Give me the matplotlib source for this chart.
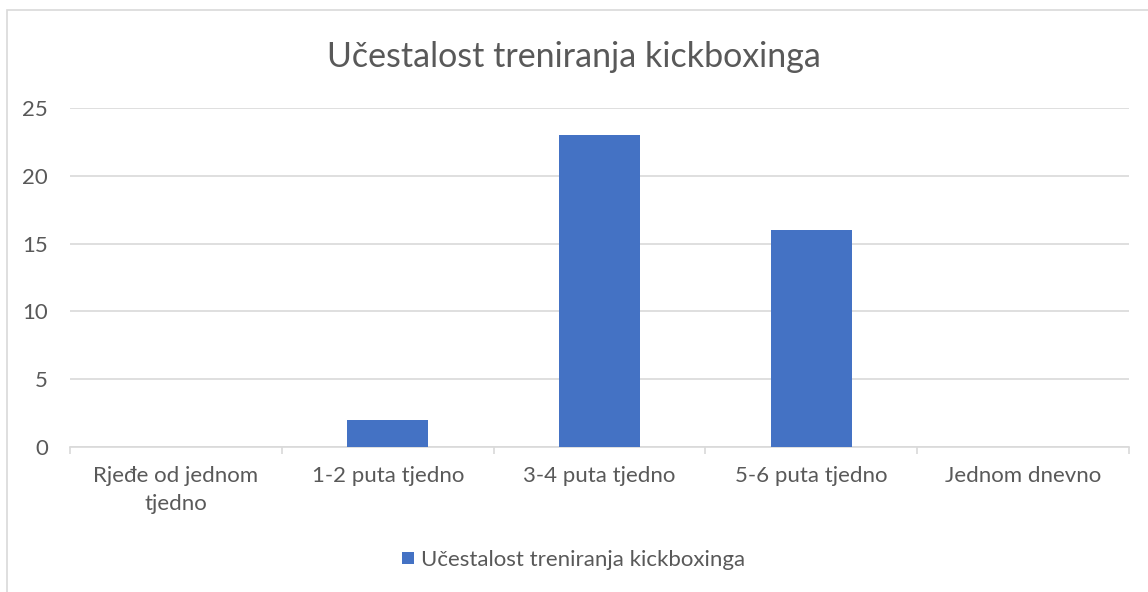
import numpy as np
import matplotlib
matplotlib.use("Agg")
import matplotlib.pyplot as plt
import matplotlib.patches as patches

# data
categories = ["Rjeđe od jednom\ntjedno", "1-2 puta tjedno", "3-4 puta tjedno",
              "5-6 puta tjedno", "Jednom dnevno"]
values = [0, 2, 23, 16, 0]
y_ticks = [0, 5, 10, 15, 20, 25]
series_name = "Učestalost treniranja kickboxinga"
title = "Učestalost treniranja kickboxinga"

BLUE = "#4472c4"
TEXT = "#595959"
GRID = "#d9d9d9"

plt.rcParams["font.family"] = ["Lato", "DejaVu Sans"]

fig = plt.figure(figsize=(11.48, 5.92), dpi=100)
ax = fig.add_axes([70 / 1148, 1 - 447 / 592, (1129 - 70) / 1148, (447 - 108) / 592])

# chart border (only left/top visible in reference)
fig.add_artist(patches.Rectangle((7 / 1148, -0.01), 1.0, 1 - 10 / 592 + 0.01,
                                 transform=fig.transFigure, fill=False,
                                 edgecolor=GRID, linewidth=1.2))

x = np.arange(len(categories))
ax.bar(x, values, width=0.38, color=BLUE, zorder=3, label=series_name)

ax.set_xlim(-0.5, len(categories) - 0.5)
ax.set_ylim(0, 25)
ax.set_yticks(y_ticks)
ax.yaxis.grid(True, color=GRID, linewidth=1.2, zorder=0)
ax.set_axisbelow(True)

ax.set_xticks(x)
ax.set_xticklabels(categories, fontsize=16, color=TEXT, linespacing=1.5)
ax.set_xticks(np.arange(-0.5, len(categories)), minor=True)
ax.tick_params(axis="x", which="major", length=0, pad=14)
ax.tick_params(axis="x", which="minor", length=5, color=GRID, width=1.2)
ax.tick_params(axis="y", length=0, pad=16, labelsize=16, labelcolor=TEXT)

for s in ["top", "right", "left"]:
    ax.spines[s].set_visible(False)
ax.spines["bottom"].set_color(GRID)
ax.spines["bottom"].set_linewidth(1.2)

fig.text(0.5, 1 - 57 / 592, title, ha="center", va="center",
         fontsize=24.5, color=TEXT)

leg = fig.legend(loc="center", bbox_to_anchor=(0.5, 1 - 560 / 592),
                 frameon=False, fontsize=16, handlelength=0.5,
                 handleheight=0.5, handletextpad=0.35, labelcolor=TEXT)

fig.savefig("out.png", dpi=100)
